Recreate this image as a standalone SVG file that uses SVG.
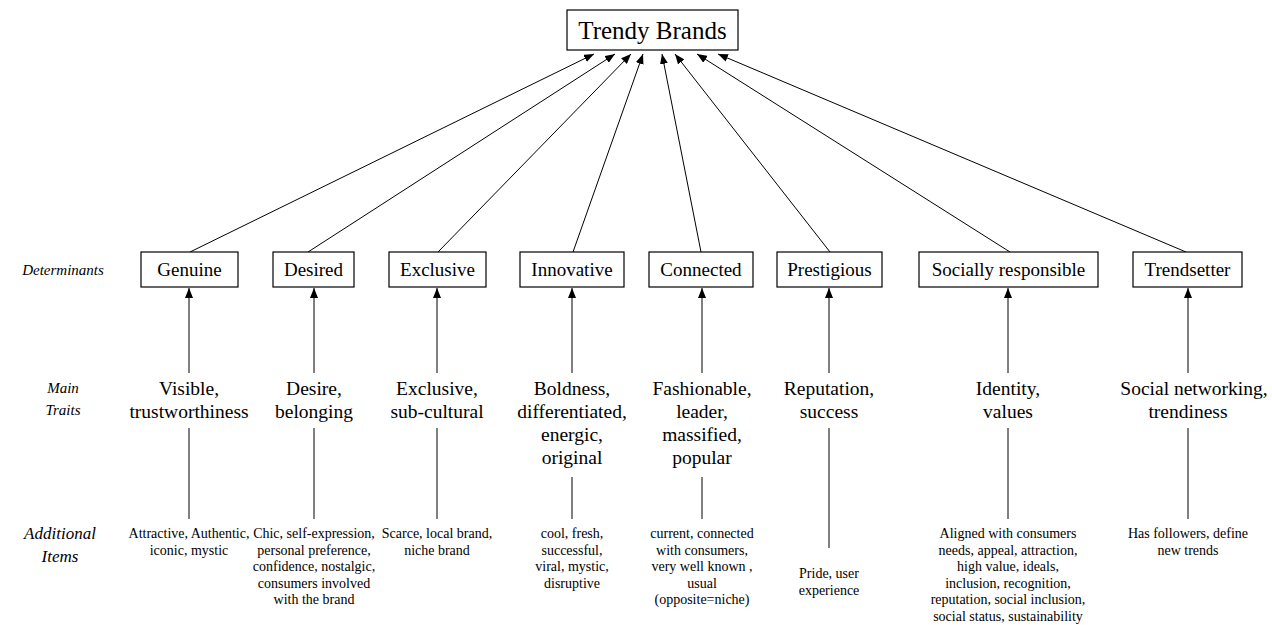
<svg xmlns="http://www.w3.org/2000/svg" width="1272" height="625" viewBox="0 0 1272 625">
<defs>
<marker id="ah" viewBox="0 0 10 8" refX="10" refY="4" markerWidth="10" markerHeight="8" markerUnits="userSpaceOnUse" orient="auto">
<path d="M0,0 L10,4 L0,8 z" fill="#000"/>
</marker>
</defs>
<style>
text{font-family:"Liberation Serif","Times New Roman",serif;fill:#000;text-anchor:middle}
.box{fill:#fff;stroke:#000;stroke-width:1.2}
.title{font-size:25px}
.det{font-size:19px}
.trait{font-size:19.5px}
.item{font-size:14px}
.side{font-style:italic;font-size:15px}
.side2{font-style:italic;font-size:17px}
.conn line{stroke:#000;stroke-width:1}
.arr{marker-end:url(#ah)}
</style>
<rect width="1272" height="625" fill="#fff"/>

<g id="labels">
<text class="side" x="63" y="275">Determinants</text>
<text class="side" x="63" y="393">Main</text>
<text class="side" x="63" y="415">Traits</text>
<text class="side2" x="60" y="539">Additional</text>
<text class="side2" x="60" y="562">Items</text>
</g>

<g id="connectors" class="conn">
<line class="arr" x1="190" y1="252" x2="594" y2="54"/>
<line class="arr" x1="308" y1="252" x2="615" y2="54"/>
<line class="arr" x1="438" y1="252" x2="631" y2="54"/>
<line class="arr" x1="573" y1="252" x2="643" y2="54"/>
<line class="arr" x1="701" y1="252" x2="662" y2="54"/>
<line class="arr" x1="830" y1="252" x2="675" y2="54"/>
<line class="arr" x1="1010" y1="252" x2="697" y2="54"/>
<line class="arr" x1="1186" y1="252" x2="718" y2="54"/>

<line class="arr" x1="189" y1="373" x2="189" y2="288"/>
<line class="arr" x1="314" y1="373" x2="314" y2="288"/>
<line class="arr" x1="437" y1="373" x2="437" y2="288"/>
<line class="arr" x1="572" y1="373" x2="572" y2="288"/>
<line class="arr" x1="702" y1="373" x2="702" y2="288"/>
<line class="arr" x1="829" y1="373" x2="829" y2="288"/>
<line class="arr" x1="1008" y1="373" x2="1008" y2="288"/>
<line class="arr" x1="1188" y1="373" x2="1188" y2="288"/>

<line x1="189" y1="428" x2="189" y2="519"/>
<line x1="314" y1="428" x2="314" y2="519"/>
<line x1="437" y1="428" x2="437" y2="519"/>
<line x1="572" y1="477" x2="572" y2="519"/>
<line x1="702" y1="477" x2="702" y2="519"/>
<line x1="829" y1="428" x2="829" y2="548"/>
<line x1="1008" y1="428" x2="1008" y2="519"/>
<line x1="1188" y1="428" x2="1188" y2="519"/>
</g>

<g id="trendy-brands">
<rect class="box" x="567" y="10" width="171" height="40"/>
<text class="title" x="652.5" y="39">Trendy Brands</text>
</g>

<g id="genuine">
<rect class="box" x="141" y="252" width="97" height="35"/>
<text class="det" x="189.5" y="276">Genuine</text>
<text class="trait" x="189" y="395">Visible,</text>
<text class="trait" x="189" y="418">trustworthiness</text>
<text class="item" x="189" y="538">Attractive, Authentic,</text>
<text class="item" x="189" y="554.5">iconic, mystic</text>
</g>

<g id="desired">
<rect class="box" x="273" y="252" width="81" height="35"/>
<text class="det" x="313.5" y="276">Desired</text>
<text class="trait" x="314" y="395">Desire,</text>
<text class="trait" x="314" y="418">belonging</text>
<text class="item" x="314" y="538">Chic, self-expression,</text>
<text class="item" x="314" y="554.5">personal preference,</text>
<text class="item" x="314" y="571">confidence, nostalgic,</text>
<text class="item" x="314" y="587.5">consumers involved</text>
<text class="item" x="314" y="604">with the brand</text>
</g>

<g id="exclusive">
<rect class="box" x="389" y="252" width="97" height="35"/>
<text class="det" x="437.5" y="276">Exclusive</text>
<text class="trait" x="437" y="395">Exclusive,</text>
<text class="trait" x="437" y="418">sub-cultural</text>
<text class="item" x="437" y="538">Scarce, local brand,</text>
<text class="item" x="437" y="554.5">niche brand</text>
</g>

<g id="innovative">
<rect class="box" x="520" y="252" width="104" height="35"/>
<text class="det" x="572" y="276">Innovative</text>
<text class="trait" x="572" y="395">Boldness,</text>
<text class="trait" x="572" y="418">differentiated,</text>
<text class="trait" x="572" y="441">energic,</text>
<text class="trait" x="572" y="464">original</text>
<text class="item" x="572" y="538">cool, fresh,</text>
<text class="item" x="572" y="554.5">successful,</text>
<text class="item" x="572" y="571">viral, mystic,</text>
<text class="item" x="572" y="587.5">disruptive</text>
</g>

<g id="connected">
<rect class="box" x="649" y="252" width="104" height="35"/>
<text class="det" x="701" y="276">Connected</text>
<text class="trait" x="702" y="395">Fashionable,</text>
<text class="trait" x="702" y="418">leader,</text>
<text class="trait" x="702" y="441">massified,</text>
<text class="trait" x="702" y="464">popular</text>
<text class="item" x="702" y="538">current, connected</text>
<text class="item" x="702" y="554.5">with consumers,</text>
<text class="item" x="702" y="571">very well known ,</text>
<text class="item" x="702" y="587.5">usual</text>
<text class="item" x="702" y="604">(opposite=niche)</text>
</g>

<g id="prestigious">
<rect class="box" x="777" y="252" width="105" height="35"/>
<text class="det" x="829.5" y="276">Prestigious</text>
<text class="trait" x="829" y="395">Reputation,</text>
<text class="trait" x="829" y="418">success</text>
<text class="item" x="829" y="578">Pride, user</text>
<text class="item" x="829" y="594.5">experience</text>
</g>

<g id="socially-responsible">
<rect class="box" x="919" y="252" width="179" height="35"/>
<text class="det" x="1008.5" y="276">Socially responsible</text>
<text class="trait" x="1008" y="395">Identity,</text>
<text class="trait" x="1008" y="418">values</text>
<text class="item" x="1008" y="538">Aligned with consumers</text>
<text class="item" x="1008" y="554.5">needs, appeal, attraction,</text>
<text class="item" x="1008" y="571">high value, ideals,</text>
<text class="item" x="1008" y="587.5">inclusion, recognition,</text>
<text class="item" x="1008" y="604">reputation, social inclusion,</text>
<text class="item" x="1008" y="620.5">social status, sustainability</text>
</g>

<g id="trendsetter">
<rect class="box" x="1133" y="252" width="109" height="35"/>
<text class="det" x="1187.5" y="276">Trendsetter</text>
<text class="trait" x="1194" y="395">Social networking,</text>
<text class="trait" x="1188" y="418">trendiness</text>
<text class="item" x="1188" y="538">Has followers, define</text>
<text class="item" x="1188" y="554.5">new trends</text>
</g>
</svg>
